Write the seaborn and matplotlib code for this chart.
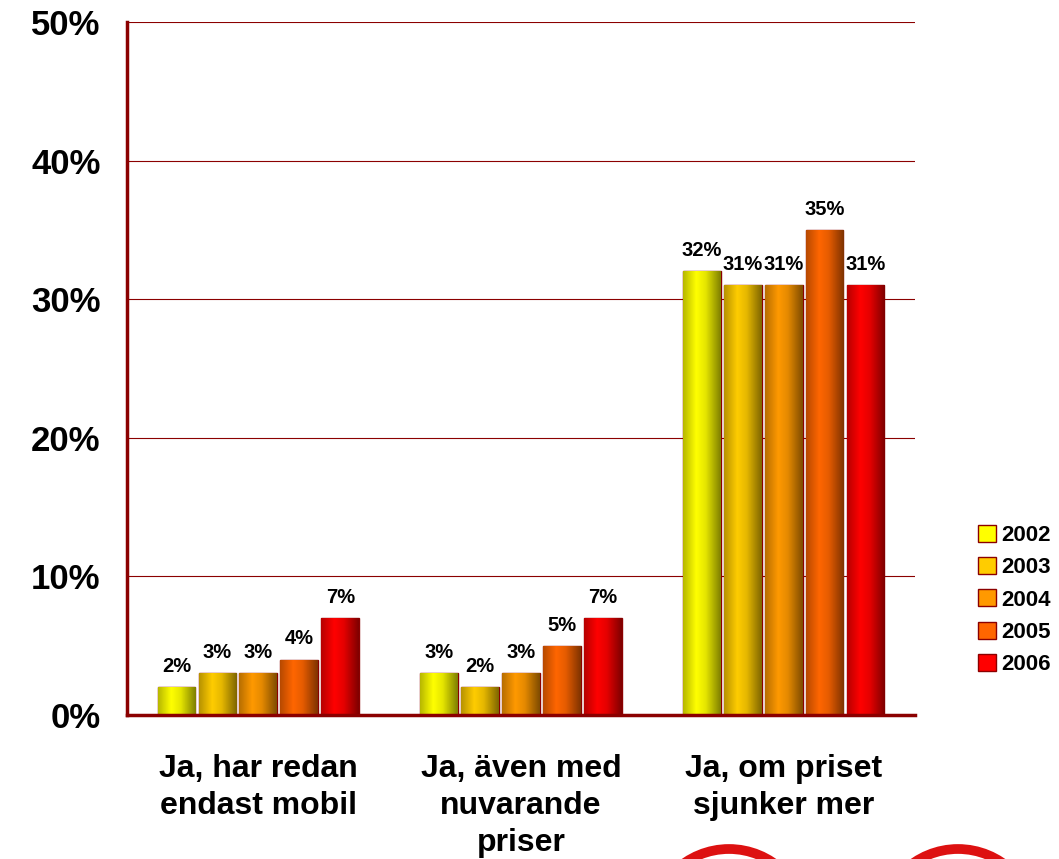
import numpy as np
import pandas as pd
import matplotlib
matplotlib.use("Agg")
import matplotlib.pyplot as plt
import seaborn as sns
from matplotlib.patches import Patch, Circle
from matplotlib.colors import to_rgb

categories = ["Ja, har redan\nendast mobil", "Ja, även med\nnuvarande\npriser", "Ja, om priset\nsjunker mer"]
years = ["2002", "2003", "2004", "2005", "2006"]
v2002 = [2, 3, 32]
v2003 = [3, 2, 31]
v2004 = [3, 3, 31]
v2005 = [4, 5, 35]
v2006 = [7, 7, 31]
colors = ["#FFFF00", "#FFCC00", "#FF9900", "#FF6600", "#FF0000"]
yticks = [0, 10, 20, 30, 40, 50]

rows = []
for y, vals in zip(years, [v2002, v2003, v2004, v2005, v2006]):
    for c, v in zip(categories, vals):
        rows.append({"cat": c, "year": y, "val": v})
df = pd.DataFrame(rows)

sns.set_style("white")
plt.rcParams["font.family"] = ["Liberation Sans", "DejaVu Sans"]
plt.rcParams["font.weight"] = "bold"
plt.rcParams["text.color"] = "black"
plt.rcParams["xtick.labelcolor"] = "black"
plt.rcParams["ytick.labelcolor"] = "black"

dark = "#8B0000"
fig = plt.figure(figsize=(10.59, 8.59), dpi=100)
ax = fig.add_axes([127/1059, 1-715/859, (915-127)/1059, (715-22)/859])

sns.barplot(data=df, x="cat", y="val", hue="year", order=categories, hue_order=years,
            palette=colors, width=0.78, gap=0.08, edgecolor=dark, linewidth=1.0,
            legend=False, ax=ax, zorder=3)

ax.set_xlim(-0.5, 2.5)
ax.set_ylim(0, 50)
ax.set_yticks(yticks)
ax.set_yticklabels([f"{t}%" for t in yticks], fontsize=25, fontweight="bold", color="black")
ax.yaxis.grid(True, color=dark, linewidth=0.8, zorder=0)
ax.set_axisbelow(True)
ax.set_xlabel("")
ax.set_ylabel("")
ax.set_xticks([0, 1, 2])
ax.set_xticklabels(categories, fontsize=23, fontweight="bold", linespacing=1.3, color="black")
ax.set_xticks([0.5, 1.5, 2.5], minor=True)
ax.tick_params(axis="x", which="major", length=0, pad=28)
ax.tick_params(axis="x", which="minor", length=8, width=2, color=dark, direction="out")
ax.tick_params(axis="y", length=9, width=2, color=dark, direction="out", pad=10)
for s in ["top", "right"]:
    ax.spines[s].set_visible(False)
for s in ["left", "bottom"]:
    ax.spines[s].set_color(dark)
    ax.spines[s].set_linewidth(2.5)
    ax.spines[s].set_zorder(5)

# gradient shading of bars
t = np.linspace(0, 1, 64)
shade = np.interp(t, [0, 0.35, 0.6, 1.0], [0.72, 1.0, 0.9, 0.5])
for container, col in zip(ax.containers, colors):
    base = np.array(to_rgb(col))
    grad = (shade[:, None] * base[None, :])[None, :, :]
    for bar in container:
        x0, y0 = bar.get_x(), bar.get_y()
        w, h = bar.get_width(), bar.get_height()
        im = ax.imshow(grad, extent=[x0, x0 + w, y0, y0 + h], aspect="auto",
                       zorder=3.5, interpolation="bilinear")
        im.set_clip_path(bar)
    for bar, v in zip(container, container.datavalues):
        ax.text(bar.get_x() + bar.get_width()/2, bar.get_height() + 0.8, f"{int(v)}%",
                ha="center", va="bottom", fontsize=14.5, fontweight="bold", color="black", zorder=6)
    ax.set_xlim(-0.5, 2.5)
    ax.set_ylim(0, 50)

handles = [Patch(facecolor=c, edgecolor=dark, linewidth=1.0) for c in colors]
fig.legend(handles, years, loc="center left", bbox_to_anchor=(978/1059, 1-600/859),
           frameon=False, handlelength=0.8, handleheight=0.8, borderpad=0, borderaxespad=0,
           handletextpad=0.25, labelspacing=0.5, prop={"weight": "bold", "size": 16})

# decorative red rings at the bottom
for cx in [729, 958]:
    ring = Circle((cx, 859-927), 78, transform=None, fill=False, edgecolor="#DD1111", linewidth=7)
    fig.patches.append(ring)

fig.savefig("out.png", dpi=100)
